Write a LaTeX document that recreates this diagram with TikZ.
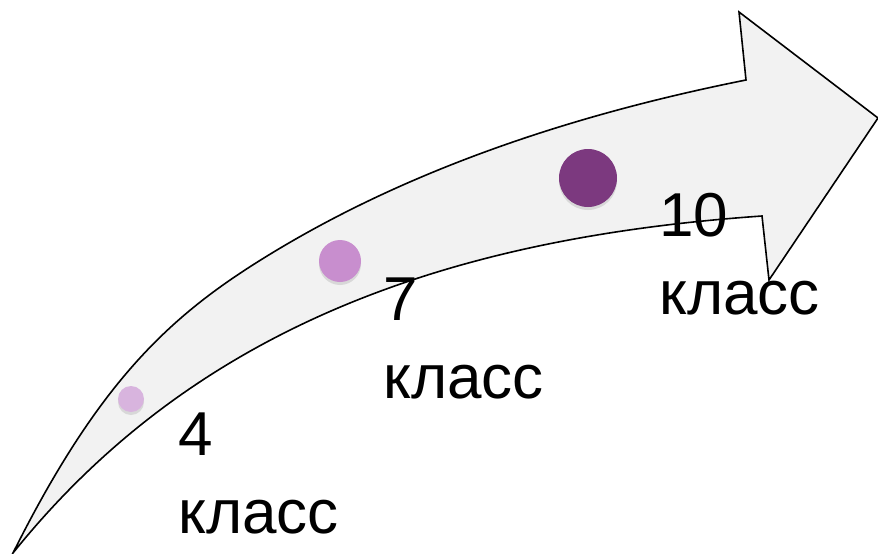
\documentclass[tikz,border=0pt]{standalone}
\usepackage{fontspec}
\setmainfont{Liberation Sans}
\usetikzlibrary{shadows}
\definecolor{dotA}{RGB}{216,180,222}
\definecolor{dotB}{RGB}{200,142,206}
\definecolor{dotC}{RGB}{124,57,127}
\definecolor{arrowfill}{RGB}{242,242,242}
\begin{document}
\begin{tikzpicture}[x=1pt, y=-1pt,
    dot/.style={circle, inner sep=0pt, drop shadow={opacity=0.22, shadow xshift=0pt, shadow yshift=-3pt}},
    grade/.style={anchor=base west, inner sep=0pt, align=left, font=\fontsize{62}{78}\selectfont}]
    \useasboundingbox (0,0) rectangle (878,554);

    % Arrow
    \draw[fill=arrowfill, line width=1.6pt, line join=miter]
        (13,553) .. controls (103,373) and (177,310) .. (277,250)
        .. controls (427,160) and (596,110) .. (746,80)
        -- (739,12) -- (878,118) -- (769,280) -- (762,216)
        .. controls (462,237) and (200,320) .. cycle;

    % Elements
    \node[dot, fill=dotA, minimum size=26pt] (d4) at (131,399) {};
    \node[dot, fill=dotB, minimum size=42pt] (d7) at (340,261) {};
    \node[dot, fill=dotC, minimum size=58pt] (d10) at (588,178) {};

    % Labels
    \node[grade] (g4) at (178,533) {4\\класс};
    \node[grade] (g7) at (383,398) {7\\класс};
    \node[grade] (g10) at (659,314) {10\\класс};
\end{tikzpicture}
\end{document}
